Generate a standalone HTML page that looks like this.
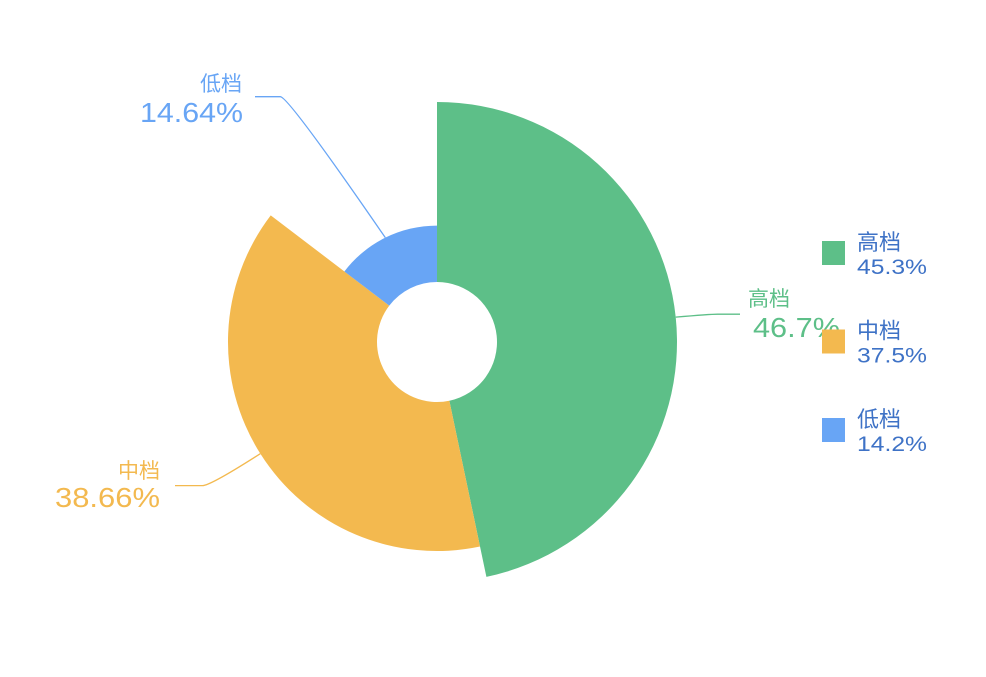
<!DOCTYPE html>
<html><head><meta charset="utf-8">
<style>
html,body{margin:0;padding:0;background:#fff;}
svg text{font-family:"Liberation Sans","Noto Sans CJK SC",sans-serif;}
</style></head>
<body>
<svg id="chart" width="986" height="672" viewBox="0 0 986 672" xmlns="http://www.w3.org/2000/svg"></svg>
<script>
const categories = ["高档", "中档", "低档"];
const values = [46.7, 38.66, 14.64];
const legendValues = ["45.3%", "37.5%", "14.2%"];
const colors = ["#5dbf88", "#f3b94f", "#68a5f5"];

const NS = "http://www.w3.org/2000/svg";
const svg = document.getElementById("chart");
const cx = 437, cy = 342, rIn = 60, rSpan = 180;
const total = values.reduce((a, b) => a + b, 0);
const maxV = Math.max(...values);
function pt(r, a) { return [cx + r * Math.sin(a), cy - r * Math.cos(a)]; }
function rad(v) { return rIn + rSpan * v / maxV; }

// label layout (styling/positions per slice, not data)
const labelLayout = [
  {dx: 34, dy: -3, endX: 740, anchor: "start", nameX: 748, valX: 753, nameY: 306, valY: 337, valW: 87},
  {dx: -50, dy: 32, endX: 175, anchor: "end", nameX: 160, valX: 160, nameY: 478, valY: 507, valW: 105},
  {dx: -97, dy: -141, endX: 255, anchor: "end", nameX: 242, valX: 243, nameY: 91, valY: 122, valW: 103}
];

let start = 0;
values.forEach((v, i) => {
  const sweep = v / total * Math.PI * 2;
  const end = start + sweep;
  const r = rad(v);
  const [x1, y1] = pt(r, start), [x2, y2] = pt(r, end);
  const [x3, y3] = pt(rIn, end), [x4, y4] = pt(rIn, start);
  const large = sweep > Math.PI ? 1 : 0;
  const p = document.createElementNS(NS, "path");
  p.setAttribute("d", `M${x1},${y1} A${r},${r} 0 ${large} 1 ${x2},${y2} L${x3},${y3} A${rIn},${rIn} 0 ${large} 0 ${x4},${y4} Z`);
  p.setAttribute("fill", colors[i]);
  
  
  svg.appendChild(p);

  const mid = start + sweep / 2;
  const L = labelLayout[i];
  const [ax, ay] = pt(r, mid);
  const bx = ax + L.dx, by = ay + L.dy;
  const line = document.createElementNS(NS, "path");
  line.setAttribute("d", `M${ax},${ay} Q${bx},${by} ${bx + (L.endX > bx ? 8 : -8)},${by} L${L.endX},${by}`);
  line.setAttribute("fill", "none");
  line.setAttribute("stroke", colors[i]);
  line.setAttribute("stroke-width", "1.3");
  
  
  svg.appendChild(line);

  const t1 = document.createElementNS(NS, "text");
  t1.setAttribute("x", L.nameX);
  t1.setAttribute("y", L.nameY);
  t1.setAttribute("text-anchor", L.anchor);
  t1.setAttribute("font-size", "21");
  t1.setAttribute("fill", colors[i]);
  t1.textContent = categories[i];
  
  
  svg.appendChild(t1);

  const t2 = document.createElementNS(NS, "text");
  t2.setAttribute("x", L.valX);
  t2.setAttribute("y", L.valY);
  t2.setAttribute("text-anchor", L.anchor);
  t2.setAttribute("font-size", "28");
  t2.setAttribute("textLength", L.valW);
  t2.setAttribute("lengthAdjust", "spacingAndGlyphs");
  t2.setAttribute("fill", colors[i]);
  t2.textContent = v + "%";
  
  
  svg.appendChild(t2);

  start = end;
});

categories.forEach((c, i) => {
  const y0 = 241 + i * 88.5;
  const g = document.createElementNS(NS, "g");
  
  
  const rect = document.createElementNS(NS, "rect");
  rect.setAttribute("x", 822); rect.setAttribute("y", y0);
  rect.setAttribute("width", 23); rect.setAttribute("height", 24);
  rect.setAttribute("fill", colors[i]);
  g.appendChild(rect);
  const a = document.createElementNS(NS, "text");
  a.setAttribute("x", 857); a.setAttribute("y", y0 + 9);
  a.setAttribute("font-size", "22"); a.setAttribute("fill", "#3e72c6");
  a.textContent = c;
  g.appendChild(a);
  const b = document.createElementNS(NS, "text");
  b.setAttribute("x", 857); b.setAttribute("y", y0 + 33);
  b.setAttribute("font-size", "21"); b.setAttribute("fill", "#3e72c6");
  b.setAttribute("textLength", "70");
  b.setAttribute("lengthAdjust", "spacingAndGlyphs");
  b.textContent = legendValues[i];
  g.appendChild(b);
  svg.appendChild(g);
});
</script>
</body></html>
